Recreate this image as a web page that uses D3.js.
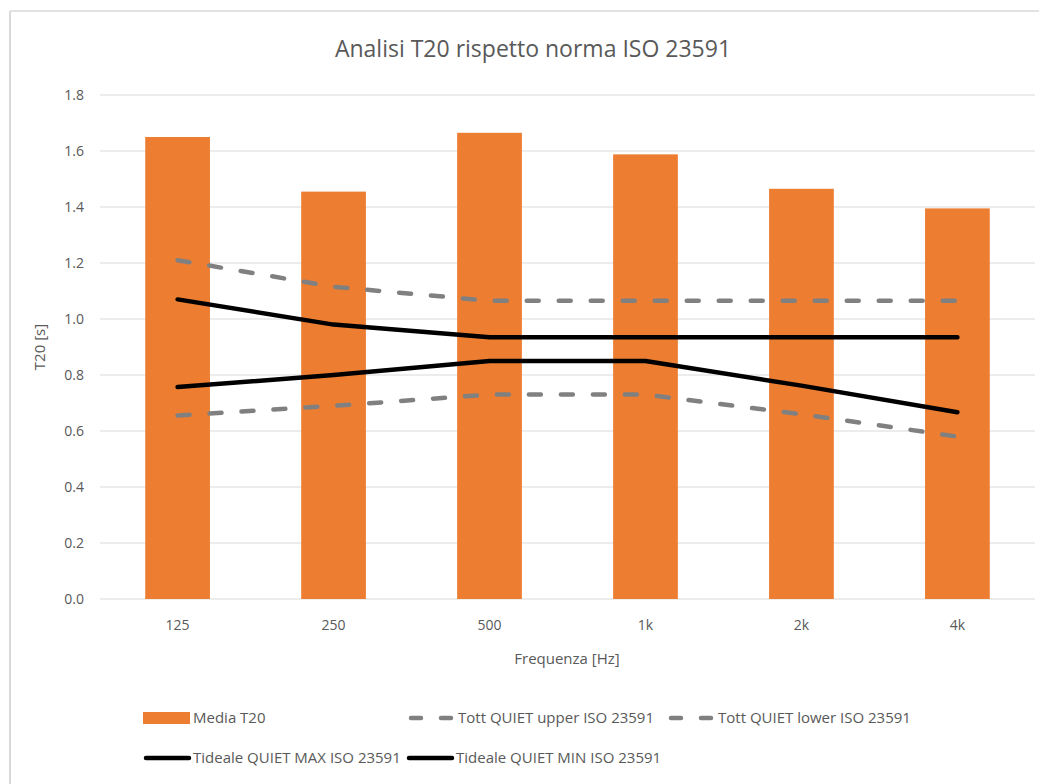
<!DOCTYPE html>
<html>
<head>
<meta charset="utf-8">
<script src="https://cdn.jsdelivr.net/npm/d3@7"></script>
<style>
  html, body { margin: 0; padding: 0; background: #fff; }
  svg { display: block; }
  text { font-family: 'Open Sans', sans-serif; fill: #595959; }
</style>
</head>
<body>
<svg id="chart" width="1039" height="784"></svg>
<script>
const categories = ["125", "250", "500", "1k", "2k", "4k"];
const mediaT20 = [1.65, 1.455, 1.665, 1.588, 1.465, 1.395];
const tottUpper = [1.21, 1.115, 1.065, 1.065, 1.065, 1.065];
const tottLower = [0.655, 0.69, 0.73, 0.73, 0.66, 0.58];
const tidealeMax = [1.07, 0.98, 0.935, 0.935, 0.935, 0.935];
const tidealeMin = [0.757, 0.80, 0.85, 0.85, 0.762, 0.667];
const yTicks = [0, 0.2, 0.4, 0.6, 0.8, 1.0, 1.2, 1.4, 1.6, 1.8];

const svg = d3.select("#chart");
const W = 1039, H = 784;
const FONT = "'Open Sans', sans-serif";
const DASH = "12,20";

// chart frame
svg.append("line").attr("x1", 10).attr("x2", W).attr("y1", 11).attr("y2", 11)
  .attr("stroke", "#d9d9d9").attr("stroke-width", 1.5);
svg.append("line").attr("x1", 10).attr("x2", 10).attr("y1", 11).attr("y2", H)
  .attr("stroke", "#d9d9d9").attr("stroke-width", 2);

const x = d3.scaleBand().domain(categories).range([100, 1035]).paddingInner(0.585).paddingOuter(0.29);
const y = d3.scaleLinear().domain([0, 1.8]).range([599, 95]);

// gridlines
svg.append("g").selectAll("line").data(yTicks).join("line")
  .attr("x1", 100).attr("x2", 1035)
  .attr("y1", d => y(d)).attr("y2", d => y(d))
  .attr("stroke", "#d9d9d9").attr("stroke-width", 1);

// y axis labels
const yAxis = d3.axisLeft(y).tickValues(yTicks).tickFormat(d3.format(".1f")).tickSize(0).tickPadding(0);
const gy = svg.append("g").attr("transform", "translate(84,0)").call(yAxis);
gy.select(".domain").remove();
gy.selectAll("text").attr("font-size", 14).style("fill", "#595959").attr("font-family", FONT);

// bars
svg.append("g").selectAll("rect").data(mediaT20).join("rect")
  .attr("x", (d, i) => x(categories[i]))
  .attr("width", x.bandwidth())
  .attr("y", d => y(d))
  .attr("height", d => y(0) - y(d))
  .attr("fill", "#ed7d31");

// x axis labels
const xAxis = d3.axisBottom(x).tickSize(0).tickPadding(0);
const gx = svg.append("g").attr("transform", "translate(0,620)").call(xAxis);
gx.select(".domain").remove();
gx.selectAll("text").attr("font-size", 14).attr("dy", "0.71em").style("fill", "#595959").attr("font-family", FONT);

// lines
const cx = (i) => x(categories[i]) + x.bandwidth() / 2;
const line = d3.line().x((d, i) => cx(i)).y(d => y(d));
const series = [
  { data: tottUpper, color: "#808080", dash: DASH },
  { data: tottLower, color: "#808080", dash: DASH },
  { data: tidealeMax, color: "#000000", dash: null },
  { data: tidealeMin, color: "#000000", dash: null }
];
series.forEach(s => {
  svg.append("path").datum(s.data).attr("d", line)
    .attr("fill", "none").attr("stroke", s.color).attr("stroke-width", 4.5)
    .attr("stroke-linecap", "round").attr("stroke-linejoin", "round")
    .attr("stroke-dasharray", s.dash);
});

// title
svg.append("text").attr("x", 533).attr("y", 57).attr("text-anchor", "middle")
  .attr("font-size", 23).text("Analisi T20 rispetto norma ISO 23591");

// axis titles
svg.append("text").attr("x", 567).attr("y", 664).attr("text-anchor", "middle")
  .attr("font-size", 15).text("Frequenza [Hz]");
svg.append("text").attr("transform", "translate(45,347) rotate(-90)").attr("text-anchor", "middle")
  .attr("font-size", 15).text("T20 [s]");

// legend
const legend = [
  { label: "Media T20", type: "rect", x: 143, y: 718 },
  { label: "Tott QUIET upper ISO 23591", type: "dash", x: 408, y: 718 },
  { label: "Tott QUIET lower ISO 23591", type: "dash", x: 668, y: 718 },
  { label: "Tideale QUIET MAX ISO 23591", type: "line", x: 143, y: 758 },
  { label: "Tideale QUIET MIN ISO 23591", type: "line", x: 406, y: 758 }
];
legend.forEach(l => {
  if (l.type === "rect") {
    svg.append("rect").attr("x", l.x).attr("y", l.y - 6).attr("width", 47).attr("height", 12).attr("fill", "#ed7d31");
  } else {
    svg.append("line").attr("x1", l.x + 3).attr("x2", l.x + 46).attr("y1", l.y).attr("y2", l.y)
      .attr("stroke", l.type === "dash" ? "#808080" : "#000")
      .attr("stroke-width", 4.5).attr("stroke-linecap", "round")
      .attr("stroke-dasharray", l.type === "dash" ? "10,20" : null);
  }
  svg.append("text").attr("x", l.x + 50).attr("y", l.y).attr("dy", "0.35em")
    .attr("font-size", 15).text(l.label);
});
</script>
</body>
</html>
